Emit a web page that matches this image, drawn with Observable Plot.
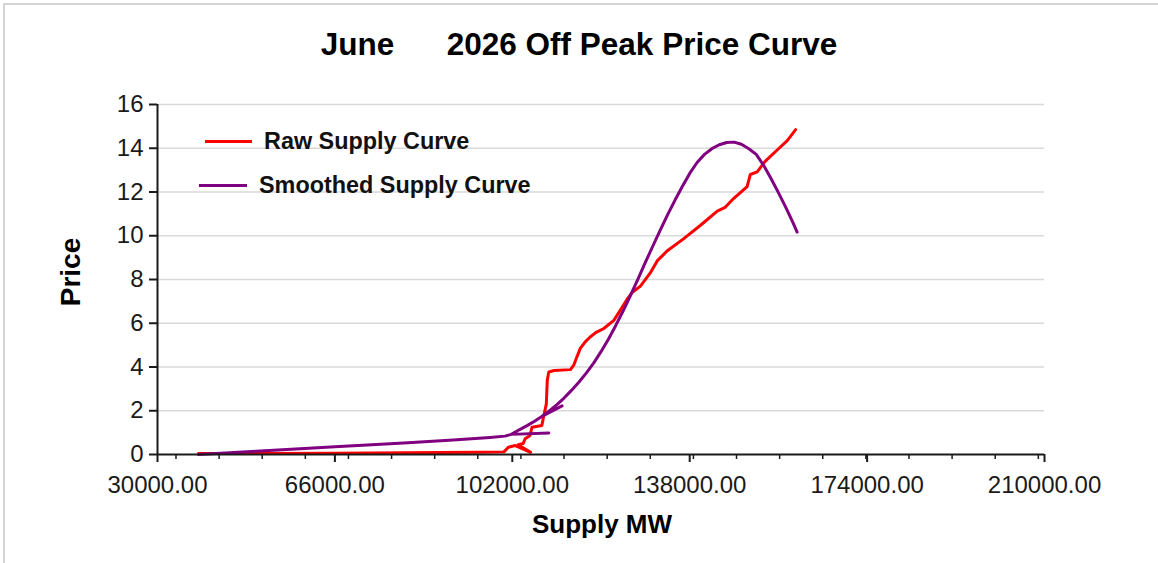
<!DOCTYPE html>
<html>
<head>
<meta charset="utf-8">
<script src="https://cdn.jsdelivr.net/npm/d3@7"></script>
<script src="https://cdn.jsdelivr.net/npm/@observablehq/plot@0.6"></script>
<style>
  html, body { margin: 0; padding: 0; background: #fff; overflow: hidden; }
  body { font-family: "Liberation Sans", Arial, sans-serif; }
  #wrap { position: relative; width: 1158px; height: 563px; overflow: hidden; }
  #frame { position: absolute; left: 3px; top: 3px; width: 1300px; height: 700px; border: 2px solid #d4d4d4; box-sizing: border-box; }
  #chart { position: absolute; left: 0; top: 0; }
  .title { position: absolute; left: 0; width: 1158px; top: 29px; text-align: center; font-weight: bold; font-size: 31.5px; line-height: 31.5px; white-space: pre; color: #000; }
  .xlabel { position: absolute; left: 0; width: 1204px; top: 511px; text-align: center; font-weight: bold; font-size: 26px; line-height: 26px; color: #000; }
  .ylabel { position: absolute; left: 71px; top: 272px; transform: translate(-50%, -50%) rotate(-90deg); font-weight: bold; font-size: 28px; line-height: 28px; white-space: nowrap; color: #000; }
  .legline { position: absolute; height: 3px; }
  .legtext { position: absolute; font-weight: bold; font-size: 23.4px; line-height: 23px; white-space: nowrap; color: #111; }
</style>
</head>
<body>
<div id="wrap">
  <div id="frame"></div>
  <div id="chart"></div>
  <div class="title" id="title"></div>
  <div class="xlabel" id="xlabel"></div>
  <div class="ylabel" id="ylabel"></div>
  <div id="legend"></div>
</div>
<script>
// ---- Data ----
const titleText = "June      2026 Off Peak Price Curve";
const xTitle = "Supply MW";
const yTitle = "Price";
const seriesNames = ["Raw Supply Curve", "Smoothed Supply Curve"];
const seriesColors = ["#ff0000", "#800080"];

// Raw supply curve (in drawing order; the source data back-tracks in places)
const rawMW = [38300, 50000, 66000, 80000, 95000, 100300, 101200, 102600, 105700, 103200, 104200, 104600, 105600, 106000, 108000, 108400, 108900, 109100, 109400, 110500, 113800, 114500, 115000, 115800, 116800, 117800, 119000, 120500, 122600, 123900, 125300, 126300, 128000, 130000, 131400, 133400, 136800, 140200, 143600, 145200, 146900, 149650, 150300, 151700, 153300, 155700, 157800, 159500];
const rawPrice = [0.05, 0.05, 0.06, 0.08, 0.1, 0.12, 0.33, 0.41, 0.1, 0.45, 0.5, 0.72, 0.87, 1.25, 1.33, 1.78, 2.3, 3.4, 3.77, 3.84, 3.88, 4.1, 4.4, 4.85, 5.15, 5.37, 5.58, 5.75, 6.13, 6.59, 7.1, 7.4, 7.7, 8.3, 8.85, 9.3, 9.87, 10.48, 11.13, 11.3, 11.7, 12.25, 12.8, 12.92, 13.4, 13.91, 14.35, 14.85];

// Smoothed supply curve (in drawing order; includes the two short back-tracks)
const smoothMW = [38300, 50000, 66000, 80000, 90000, 97500, 100500, 101800, 109400, 101800, 103500, 105000, 106500, 108000, 112100, 108000, 109500, 111000, 112500, 114000, 115500, 117000, 118500, 120000, 121500, 123000, 124500, 126000, 127500, 129000, 130500, 132000, 133500, 135000, 136500, 138000, 139500, 141000, 142500, 144000, 145500, 147000, 148500, 150000, 151500, 153000, 154500, 156000, 157500, 159000, 159800];
const smoothPrice = [0, 0.15, 0.35, 0.53, 0.66, 0.78, 0.84, 0.92, 0.98, 0.92, 1.14, 1.32, 1.52, 1.74, 2.22, 1.74, 1.99, 2.27, 2.58, 2.93, 3.3, 3.72, 4.18, 4.7, 5.27, 5.9, 6.57, 7.28, 8.02, 8.78, 9.52, 10.25, 10.95, 11.62, 12.25, 12.85, 13.35, 13.72, 13.98, 14.16, 14.26, 14.28, 14.18, 13.98, 13.72, 13.22, 12.62, 11.97, 11.3, 10.58, 10.17];

const xMajorTicks = [30000, 66000, 102000, 138000, 174000, 210000];
const xMinorTicks = [33750, 42500, 51250, 60000, 68750, 77500, 86250, 95000, 103750, 112500, 121250, 130000, 138750, 147500, 156250, 165000, 173750, 182500, 191250, 200000, 208750];
const yTicks = [0, 2, 4, 6, 8, 10, 12, 14, 16];
const xDomain = [30000, 210000];
const yDomain = [0, 16];

// ---- Build tables ----
const raw = rawMW.map((x, i) => ({x, y: rawPrice[i]}));
const smooth = smoothMW.map((x, i) => ({x, y: smoothPrice[i]}));

const font = '"Liberation Sans", Arial, sans-serif';
const plot = Plot.plot({
  width: 1158,
  height: 563,
  marginTop: 104,
  marginBottom: 109,
  marginLeft: 157,
  marginRight: 114,
  x: {domain: xDomain, axis: null},
  y: {domain: yDomain, axis: null},
  style: {fontFamily: font, background: "transparent", overflow: "visible"},
  marks: [
    Plot.gridY(yTicks.filter(d => d > 0), {stroke: "#d9d9d9", strokeOpacity: 1, strokeWidth: 1.5}),
    Plot.line(raw, {x: "x", y: "y", stroke: seriesColors[0], strokeWidth: 3, strokeLinejoin: "round"}),
    Plot.line(smooth, {x: "x", y: "y", stroke: seriesColors[1], strokeWidth: 3, strokeLinejoin: "round"}),
    Plot.ruleY([yDomain[0]], {stroke: "#1a1a1a", strokeWidth: 2}),
    Plot.ruleX([xDomain[0]], {stroke: "#1a1a1a", strokeWidth: 2}),
    Plot.axisX({ticks: xMinorTicks, tickSize: 5, tickFormat: () => "", label: null, stroke: "#1a1a1a", strokeWidth: 1.5}),
    Plot.axisX({ticks: xMajorTicks, tickSize: 8, tickPadding: 13, tickFormat: d3.format(".2f"), fontSize: 24, label: null, color: "#1a1a1a", strokeWidth: 2}),
    Plot.axisY({ticks: yTicks, tickSize: 8, tickPadding: 6, fontSize: 24, label: null, color: "#1a1a1a", strokeWidth: 2})
  ]
});
document.getElementById("chart").appendChild(plot);

document.getElementById("title").textContent = titleText;
document.getElementById("xlabel").textContent = xTitle;
document.getElementById("ylabel").textContent = yTitle;

// Legend (HTML overlay inside the plot area, top-left)
const legendSpec = [
  {line: [205, 47, 139.5], text: [264, 129.5]},
  {line: [199, 48, 183.5], text: [259, 173.5]}
];
const leg = document.getElementById("legend");
seriesNames.forEach((name, i) => {
  const s = legendSpec[i];
  const l = document.createElement("div");
  l.className = "legline";
  l.style.left = s.line[0] + "px";
  l.style.width = s.line[1] + "px";
  l.style.top = s.line[2] + "px";
  l.style.background = seriesColors[i];
  leg.appendChild(l);
  const t = document.createElement("div");
  t.className = "legtext";
  t.style.left = s.text[0] + "px";
  t.style.top = s.text[1] + "px";
  t.textContent = name;
  leg.appendChild(t);
});
</script>
</body>
</html>
